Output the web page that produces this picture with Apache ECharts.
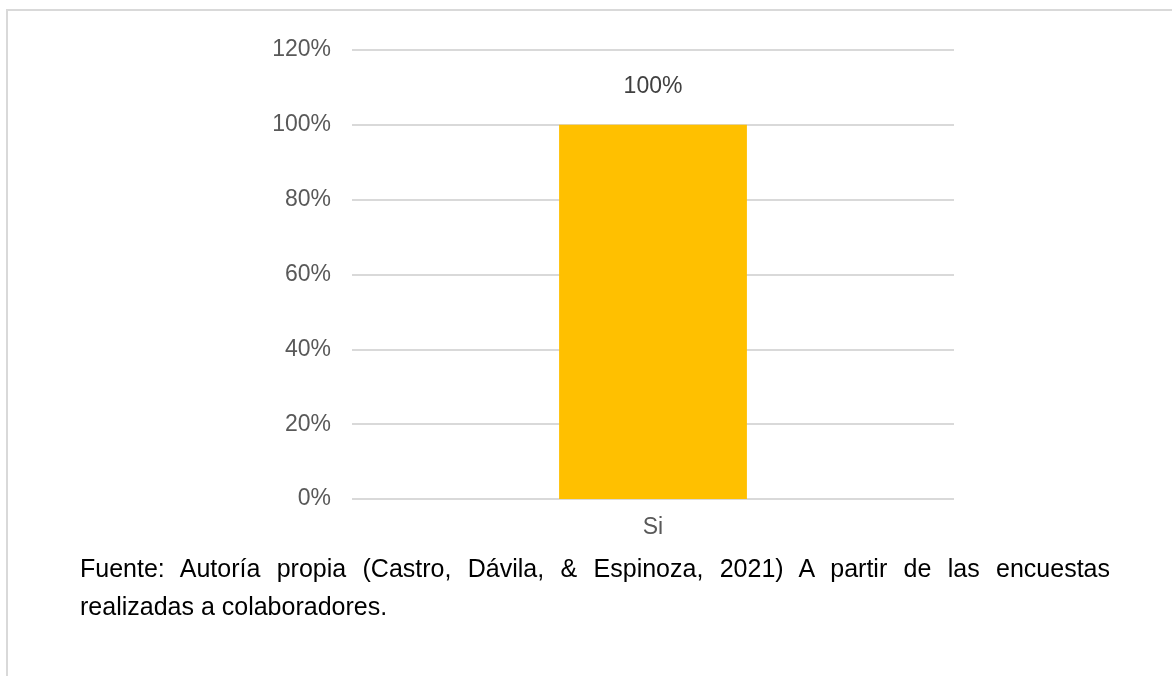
<!DOCTYPE html>
<html>
<head>
<meta charset="utf-8">
<script src="https://cdn.jsdelivr.net/npm/echarts@6/dist/echarts.min.js"></script>
<style>
  html, body { margin: 0; padding: 0; background: #ffffff; }
  #wrap { position: relative; width: 1172px; height: 676px; overflow: hidden; }
  #frame { position: absolute; left: 6px; top: 9px; right: -4px; bottom: -4px;
           border-top: 2px solid #d9d9d9; border-left: 2px solid #d9d9d9; }
  #chart { position: absolute; left: 0; top: 0; width: 1172px; height: 676px; }
  #source { position: absolute; left: 80px; top: 549px; width: 1030px;
            font-family: "Liberation Sans", Arial, sans-serif; font-size: 25px;
            line-height: 38px; color: #000; text-align: justify; }
</style>
</head>
<body>
<div id="wrap">
  <div id="frame"></div>
  <div id="chart"></div>
  <div id="source">Fuente: Autoría propia (Castro, Dávila, &amp; Espinoza, 2021) A partir de las encuestas realizadas a colaboradores.</div>
</div>
<script>
// Survey answer shares (percent)
const categories = ['Si'];
const values = [100];
const axisMax = 120;
const axisStep = 20;

const chart = echarts.init(document.getElementById('chart'), null, { renderer: 'canvas' });
chart.setOption({
  animation: false,
  grid: { left: 352, right: 218, top: 50, bottom: 177 },
  xAxis: {
    type: 'category',
    data: categories,
    axisLine: { show: false },
    axisTick: { show: false },
    axisLabel: { color: '#595959', fontFamily: 'Liberation Sans', fontSize: 23, margin: 17 }
  },
  yAxis: {
    type: 'value',
    min: 0,
    max: axisMax,
    interval: axisStep,
    axisLine: { show: false },
    axisTick: { show: false },
    axisLabel: { color: '#595959', fontFamily: 'Liberation Sans', fontSize: 23, margin: 21, formatter: '{value}%' },
    splitLine: { lineStyle: { color: '#d9d9d9', width: 2 } }
  },
  series: [{
    type: 'bar',
    data: values,
    barWidth: '31.2%',
    itemStyle: { color: '#ffc000' },
    label: {
      show: true,
      position: 'top',
      distance: 27,
      color: '#404040',
      fontFamily: 'Liberation Sans',
      fontSize: 23,
      formatter: '{c}%'
    }
  }]
});
</script>
</body>
</html>
